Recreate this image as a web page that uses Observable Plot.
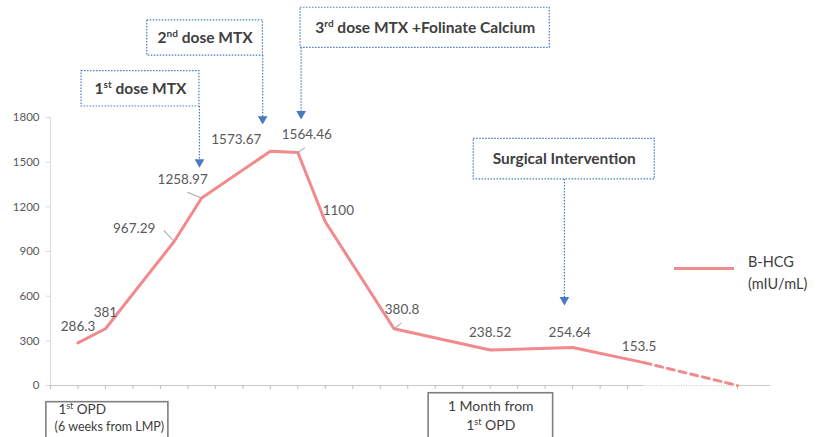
<!DOCTYPE html>
<html>
<head>
<meta charset="utf-8">
<script src="https://cdn.jsdelivr.net/npm/d3@7"></script>
<script src="https://cdn.jsdelivr.net/npm/@observablehq/plot@0.6"></script>
<style>
  html, body { margin: 0; padding: 0; background: #fff; }
  #wrap { position: relative; width: 819px; height: 437px; overflow: hidden; }
  #legend { position: absolute; left: 674px; top: 251px; font-family: Lato, sans-serif; font-size: 14.5px; color: #404040; }
  #legend .sw { position: absolute; left: 0; top: 16px; width: 60px; height: 3px; background: #f2898b; }
  #legend .lb { position: absolute; left: 74px; top: 0; line-height: 22px; white-space: nowrap; }
</style>
</head>
<body>
<div id="wrap">
  <div id="chart"></div>
  <div id="legend"><div class="sw"></div><div class="lb">B-HCG<br>(mIU/mL)</div></div>
</div>
<script>
// ---- data ----
const days = [1, 2, 4.5, 5.5, 8, 9, 10, 12.5, 16, 19, 21.6];
const bhcg = [286.3, 381, 967.29, 1258.97, 1573.67, 1564.46, 1100, 380.8, 238.52, 254.64, 153.5];
const labels = ["286.3", "381", "967.29", "1258.97", "1573.67", "1564.46", "1100", "380.8", "238.52", "254.64", "153.5"];
const projDays = [21.6, 25];
const projValues = [153.5, 0];
const yTicks = [0, 300, 600, 900, 1200, 1500, 1800];
const xTicks = [...d3.range(0, 22), 25];

const eventNames = ["1{st} dose MTX", "2{nd} dose MTX", "3{rd} dose MTX +Folinate Calcium", "Surgical Intervention"];
const eventDays = [5.42, 7.72, 9.12, 18.7];

// ---- layout (not data) ----
const labelOffsets = [[0,-16],[0,-16],[-40,-13],[-19,-18],[-34,-12],[9,-18],[13,-11],[8,-19],[0,-17],[-3,-15],[-5,-16]];
const leaders = [null, null, [-43, 18], [-68, 18], null, [56, 10], null, [51, 11], null, null, null];
const eventBoxes = [
  {x1: 1.13, x2: 5.42, y1: 1874, y2: 2111, arrowTo: 1500},
  {x1: 3.52, x2: 7.73, y1: 2216, y2: 2452, arrowTo: 1790},
  {x1: 9.10, x2: 18.17, y1: 2268, y2: 2537, arrowTo: 1825},
  {x1: 15.40, x2: 21.99, y1: 1384, y2: 1657, arrowTo: 575}
];

const series = days.map((d, i) => ({day: d, value: bhcg[i], label: labels[i], off: labelOffsets[i], leader: leaders[i]}));
const proj = projDays.map((d, i) => ({day: d, value: projValues[i]}));
const events = eventNames.map((n, i) => ({name: n, day: eventDays[i], ...eventBoxes[i]}));

const pink = "#f2898b";
const blue = "#4a78c2";
const font = "Lato, sans-serif";

const lineShape = {draw(ctx, l) { ctx.moveTo(0, 0); ctx.lineTo(0, -l); }};

const chart = Plot.plot({
  width: 819,
  height: 437,
  marginLeft: 50,
  marginRight: 49,
  marginTop: 117,
  marginBottom: 52,
  x: {domain: [0, 26.2]},
  y: {domain: [0, 1800]},
  style: {fontFamily: font, background: "white", color: "#595959", overflow: "visible"},
  marks: [
    // axes
    Plot.ruleX([0], {y1: 0, y2: 1800, stroke: "#d9d9d9"}),
    Plot.axisY({ticks: yTicks, tickSize: 4, tickPadding: 7, tickFormat: d => String(d), stroke: "#d9d9d9", fill: "#595959", fontSize: 11.5, label: null}),
    Plot.ruleY([0], {x1: 0, x2: projDays[0], stroke: "#c9c9c9"}),
    Plot.ruleY([0], {x1: projDays[0], x2: projDays[1], stroke: "#c9c9c9", strokeDasharray: "1,1.5"}),
    Plot.ruleY([0], {x1: projDays[1], x2: 26.2, stroke: "#c9c9c9"}),
    Plot.axisX({ticks: xTicks, tickSize: 4, tickFormat: () => "", stroke: "#bfbfbf", label: null}),
    // series
    Plot.line(series, {x: "day", y: "value", stroke: pink, strokeWidth: 3, strokeLinejoin: "round"}),
    Plot.line(proj, {x: "day", y: "value", stroke: pink, strokeWidth: 3, strokeDasharray: "7,5"}),
    // leader lines
    Plot.vector(series.filter(d => d.leader), {x: "day", y: "value", rotate: d => d.leader[0], length: d => d.leader[1], anchor: "start", shape: lineShape, stroke: "#a6a6a6", strokeWidth: 1}),
    // data labels
    ...series.map(d => Plot.text([d], {x: "day", y: "value", text: "label", dx: d.off[0], dy: d.off[1], fontSize: 13.5, fill: "#595959"})),
    // event annotations
    Plot.rect(events, {x1: "x1", x2: "x2", y1: "y1", y2: "y2", fill: "white", stroke: blue, strokeWidth: 1.2, strokeDasharray: "1.5,1.5"}),
    Plot.ruleX(events, {x: "day", y1: "y1", y2: "arrowTo", stroke: blue, strokeWidth: 1.2, strokeDasharray: "1.5,1.5"}),
    Plot.dot(events, {x: "day", y: "arrowTo", symbol: "triangle", rotate: 180, r: 3.6, fill: blue, stroke: null}),
    Plot.text(events, {x: d => (d.x1 + d.x2) / 2, y: d => (d.y1 + d.y2) / 2, text: "name", fontSize: 15.5, fontWeight: "bold", fill: "#404040"}),
    // time reference boxes
    Plot.rect([{x1: -0.15, x2: 4.29, y1: -112, y2: -600}], {x1: "x1", x2: "x2", y1: "y1", y2: "y2", fill: "none", stroke: "#7f7f7f", strokeWidth: 1.6}),
    Plot.text(["1{st} OPD"], {x: 0.29, y: -160, text: d => d, textAnchor: "start", fontSize: 13.5, fill: "#404040"}),
    Plot.text(["(6 weeks from LMP)"], {x: 0.15, y: -282, text: d => d, textAnchor: "start", fontSize: 12.5, fill: "#404040"}),
    Plot.rect([{x1: 13.76, x2: 18.29, y1: -52, y2: -600}], {x1: "x1", x2: "x2", y1: "y1", y2: "y2", fill: "none", stroke: "#7f7f7f", strokeWidth: 1.6}),
    Plot.text(["1 Month from"], {x: 16.02, y: -141, text: d => d, fontSize: 14, fill: "#404040"}),
    Plot.text(["1{st} OPD"], {x: 16.02, y: -270, text: d => d, fontSize: 14, fill: "#404040"})
  ]
});

document.getElementById("chart").appendChild(chart);

// superscripts: {xx} -> raised small text
const NS = "http://www.w3.org/2000/svg";
chart.querySelectorAll("text, tspan").forEach(el => {
  if (el.children.length) return;
  const s = el.textContent;
  if (!s.includes("{")) return;
  el.textContent = "";
  s.split(/(\{[^}]*\})/).forEach(p => {
    if (!p) return;
    const t = document.createElementNS(NS, "tspan");
    if (p.startsWith("{")) {
      t.textContent = p.slice(1, -1);
      t.setAttribute("font-size", "65%");
      t.setAttribute("baseline-shift", "super");
    } else {
      t.textContent = p;
    }
    el.appendChild(t);
  });
});
</script>
</body>
</html>
